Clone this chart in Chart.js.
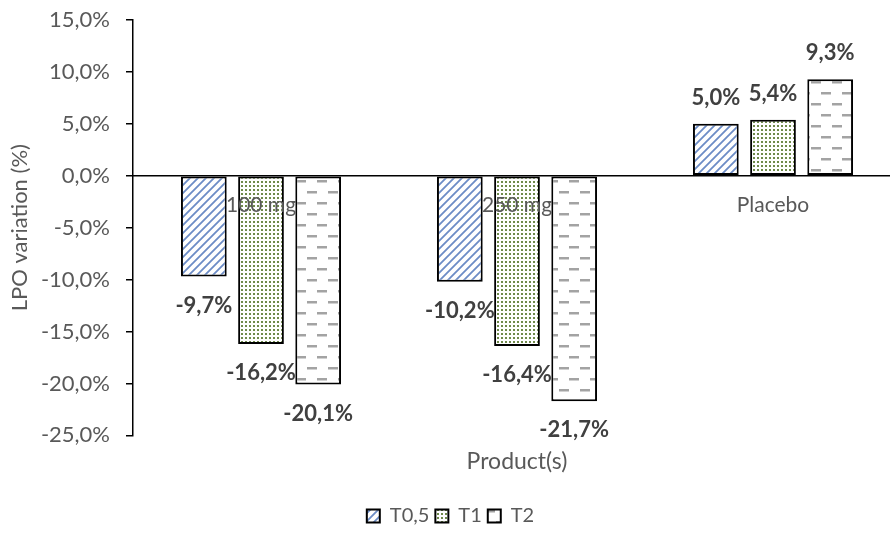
<!DOCTYPE html>
<html>
<head>
<meta charset="utf-8">
<title>LPO variation by product</title>
<script src="https://cdn.jsdelivr.net/npm/chart.js@4.4.1/dist/chart.umd.min.js"></script>
<style>
  html, body { margin: 0; padding: 0; background: #fff; overflow: hidden; }
  #wrap { width: 901px; height: 542px; }
</style>
</head>
<body>
<div id="wrap"><canvas id="lpoChart" width="901" height="542"></canvas></div>
<script>
// chart data
const categories = ['100 mg', '250 mg', 'Placebo'];
const seriesNames = ['T0,5', 'T1', 'T2'];
const t05Values = [-9.7, -10.2, 5.0];
const t1Values = [-16.2, -16.4, 5.4];
const t2Values = [-20.1, -21.7, 9.3];
const yTicks = [-25, -20, -15, -10, -5, 0, 5, 10, 15];

const textGrey = '#595959';
const labelGrey = '#404040';
const fontFamily = 'Lato, "Open Sans", sans-serif';

// percentage with a decimal comma, e.g. -9,7%
function pct(v) {
    return v.toFixed(1).replace('.', ',') + '%';
}

// small tiles used as hatch fills for the bars
function makePattern(kind) {
    const c = document.createElement('canvas');
    const g = c.getContext('2d');
    if (kind === 'diagonal') {
        c.width = 8; c.height = 8;
        g.fillStyle = '#fff';
        g.fillRect(0, 0, 8, 8);
        g.strokeStyle = '#6c8cc6';
        g.lineWidth = 1.8;
        g.beginPath();
        g.moveTo(-2, 10); g.lineTo(10, -2);
        g.moveTo(-2, 2); g.lineTo(2, -2);
        g.moveTo(6, 10); g.lineTo(10, 6);
        g.stroke();
    } else if (kind === 'dots') {
        c.width = 4; c.height = 4;
        g.fillStyle = '#fff';
        g.fillRect(0, 0, 4, 4);
        g.fillStyle = '#6f8a4b';
        g.fillRect(1, 1, 2, 2);
    } else {
        c.width = 21; c.height = 22;
        g.fillStyle = '#fff';
        g.fillRect(0, 0, 21, 22);
        g.fillStyle = '#a3a3a3';
        g.fillRect(2, 4, 10, 2.5);
        g.fillRect(13, 15, 8, 2.5);
        g.fillRect(0, 15, 2, 2.5);
    }
    return document.getElementById('lpoChart').getContext('2d').createPattern(c, 'repeat');
}

const fills = [makePattern('diagonal'), makePattern('dots'), makePattern('dashes')];
const seriesValues = [t05Values, t1Values, t2Values];

const datasets = seriesNames.map((name, i) => ({
    label: name,
    data: seriesValues[i],
    backgroundColor: fills[i],
    borderColor: '#000',
    borderWidth: 2,
    borderSkipped: false,
    categoryPercentage: 0.67,
    barPercentage: 0.8
}));

// value labels just beyond the end of each bar
const valueLabels = {
    id: 'valueLabels',
    afterDatasetsDraw(chart) {
        const ctx = chart.ctx;
        ctx.save();
        ctx.font = 'bold 22px ' + fontFamily;
        ctx.fillStyle = labelGrey;
        ctx.textAlign = 'center';
        ctx.textBaseline = 'middle';
        chart.data.datasets.forEach((ds, di) => {
            chart.getDatasetMeta(di).data.forEach((bar, j) => {
                const v = ds.data[j];
                const y = v < 0 ? bar.y + 29 : bar.y - 26;
                ctx.fillText(pct(v), bar.x, y);
            });
        });
        ctx.restore();
    }
};

new Chart(document.getElementById('lpoChart'), {
    type: 'bar',
    data: { labels: categories, datasets: datasets },
    options: {
        responsive: false,
        animation: false,
        layout: { padding: { top: 20, right: 0, bottom: 6, left: 0 } },
        plugins: {
            tooltip: { enabled: false },
            legend: {
                position: 'bottom',
                labels: {
                    boxWidth: 13,
                    boxHeight: 13,
                    padding: 6,
                    color: textGrey,
                    font: { family: fontFamily, size: 20 }
                }
            }
        },
        scales: {
            x: {
                position: { y: 0 },
                grid: { display: false, drawTicks: false },
                border: { display: true, color: '#000', width: 1.5, z: 1 },
                ticks: {
                    z: 1,
                    color: textGrey,
                    padding: 17,
                    font: { family: fontFamily, size: 21 }
                }
            },
            x2: {
                type: 'category',
                labels: categories,
                position: 'bottom',
                grid: { display: false, drawTicks: false },
                border: { display: false },
                ticks: { display: false },
                title: {
                    display: true,
                    text: 'Product(s)',
                    color: textGrey,
                    font: { family: fontFamily, size: 23 },
                    padding: { top: 12, bottom: 25 }
                }
            },
            y: {
                min: -25,
                max: 15,
                afterBuildTicks(scale) {
                    scale.ticks = yTicks.map(v => ({ value: v }));
                },
                afterFit(scale) {
                    scale.width = 133;
                    scale.paddingTop = 0;
                    scale.paddingBottom = 0;
                },
                grid: {
                    display: true,
                    drawOnChartArea: false,
                    drawTicks: true,
                    tickLength: 7,
                    color: '#000',
                    lineWidth: 1.5
                },
                border: { display: true, color: '#000', width: 1.5 },
                ticks: {
                    color: textGrey,
                    padding: 16,
                    font: { family: fontFamily, size: 22 },
                    callback: v => pct(v)
                },
                title: {
                    display: true,
                    text: 'LPO variation (%)',
                    color: textGrey,
                    font: { family: fontFamily, size: 22 },
                    padding: { top: 7, bottom: 0 }
                }
            }
        }
    },
    plugins: [valueLabels]
});
</script>
</body>
</html>
